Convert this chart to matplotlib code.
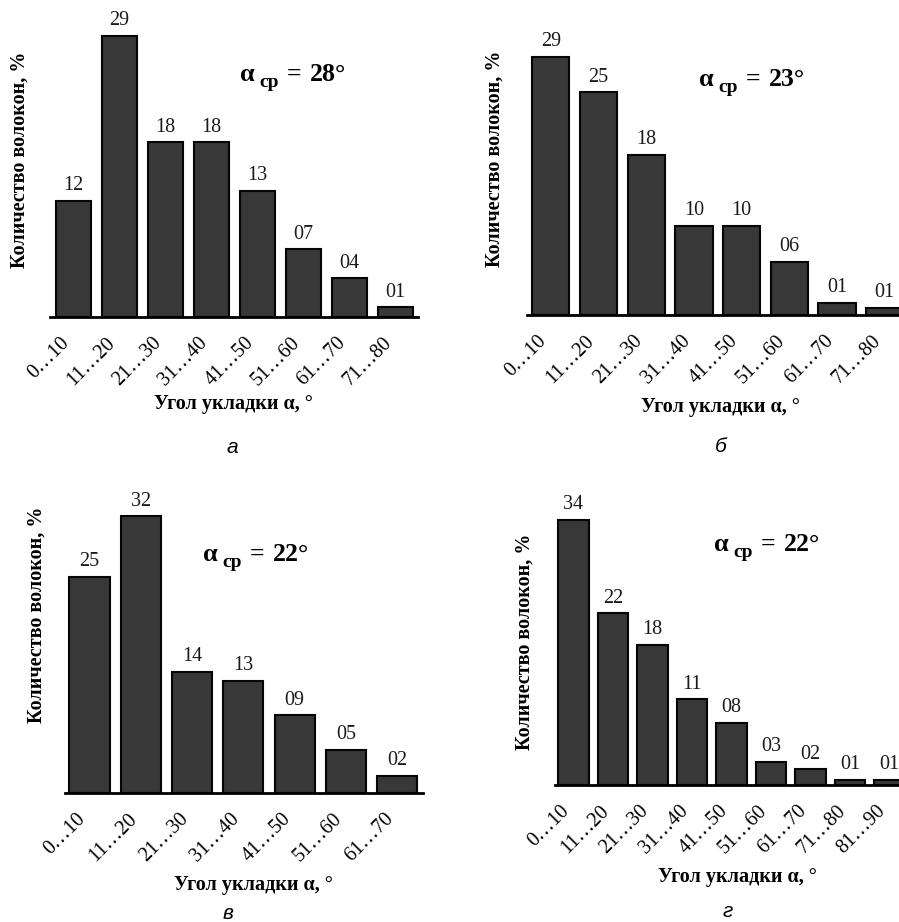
import matplotlib.pyplot as plt

W, H = 899, 922

# fibre share (%) per laying-angle range, four samples
ranges_a = ['0…10', '11…20', '21…30', '31…40', '41…50', '51…60', '61…70', '71…80']
share_a = [12, 29, 18, 18, 13, 7, 4, 1]

ranges_b = ['0…10', '11…20', '21…30', '31…40', '41…50', '51…60', '61…70', '71…80']
share_b = [29, 25, 18, 10, 10, 6, 1.4, 0.8]

ranges_c = ['0…10', '11…20', '21…30', '31…40', '41…50', '51…60', '61…70']
share_c = [25, 32, 14, 13, 9, 5, 2]

ranges_d = ['0…10', '11…20', '21…30', '31…40', '41…50', '51…60', '61…70', '71…80', '81…90']
share_d = [34, 22, 18, 11, 8, 3, 2, 0.7, 0.7]

mean_angle = [28, 23, 22, 22]
captions = ['а', 'б', 'в', 'г']

serif = 'Liberation Serif'
sans = 'Liberation Sans'

# panel geometry in output pixels:
# axis left/right, top, baseline, first bar centre, bar pitch, px per %
boxes = [
    (50, 418, 15, 317, 73.5, 46.0, 9.7),
    (527, 899, 15, 315, 550.8, 47.7, 8.9),
    (65, 423, 480, 793, 89.5, 51.3, 8.65),
    (555, 899, 480, 785, 573.5, 39.5, 7.8),
]
ylabel_xy = [(20, 160), (495, 159), (37, 615), (525, 642)]
xlabel_xy = [(233, 404), (720, 407), (253, 885), (737, 877)]
alpha_xy = [(240, 81), (699, 86), (203, 561), (714, 551)]   # baseline of "α ..."
caption_xy = [(232, 453), (721, 452), (228, 919), (728, 917)]  # baselines

data = [(ranges_a, share_a), (ranges_b, share_b), (ranges_c, share_c), (ranges_d, share_d)]

fig = plt.figure(figsize=(W / 100, H / 100), dpi=100)


def fx(x):
    return x / W


def fy(y):
    return 1 - y / H


for i, (labels, vals) in enumerate(data):
    left, right, top, bottom, c0, pitch, scale = boxes[i]
    ax = fig.add_axes([fx(left), fy(bottom), (right - left) / W, (bottom - top) / H])
    x = list(range(len(vals)))
    bars = ax.bar(x, vals, width=0.78, color='#383838', edgecolor='#050505', linewidth=1.5)
    for b, v in zip(bars, vals):
        ax.annotate(f'{round(v):02d}', (b.get_x() + b.get_width() / 2, b.get_height()),
                    xytext=(0, 4), textcoords='offset points', ha='center', va='bottom',
                    fontsize=14.5, family=serif, color='#1a1a1a')
    ax.set_xlim((left - c0) / pitch, (right - c0) / pitch)
    ax.set_ylim(0, (bottom - top) / scale)
    ax.set_xticks(x)
    ax.set_xticklabels(labels, rotation=45, ha='right', fontsize=14.5, family=serif)
    ax.tick_params(axis='x', length=0, pad=12)
    ax.set_yticks([])
    for s in ['top', 'right', 'left']:
        ax.spines[s].set_visible(False)
    ax.spines['bottom'].set_linewidth(2)
    ax.patch.set_alpha(0)

    fig.text(fx(ylabel_xy[i][0]), fy(ylabel_xy[i][1]), 'Количество волокон, %', rotation=90,
             ha='center', va='center', fontsize=14.5, family=serif, weight='bold')
    fig.text(fx(xlabel_xy[i][0]), fy(xlabel_xy[i][1]), 'Угол укладки α, °',
             ha='center', va='center', fontsize=14.5, family=serif, weight='bold')

    ax0, ay0 = alpha_xy[i]
    fig.text(fx(ax0), fy(ay0), 'α', ha='left', va='baseline', fontsize=19, family=serif,
             weight='bold')
    fig.text(fx(ax0 + 19), fy(ay0 + 6), 'ср', ha='left', va='baseline', fontsize=14,
             family=serif, weight='bold')
    fig.text(fx(ax0 + 47), fy(ay0), '=', ha='left', va='baseline', fontsize=18.5, family=serif,
             weight='bold')
    fig.text(fx(ax0 + 70), fy(ay0), f'{mean_angle[i]}°', ha='left', va='baseline',
             fontsize=18.5, family=serif, weight='bold')

    fig.text(fx(caption_xy[i][0]), fy(caption_xy[i][1]), captions[i], ha='center',
             va='baseline', fontsize=15, family=sans, style='italic')

fig.savefig('out.png', dpi=100)
